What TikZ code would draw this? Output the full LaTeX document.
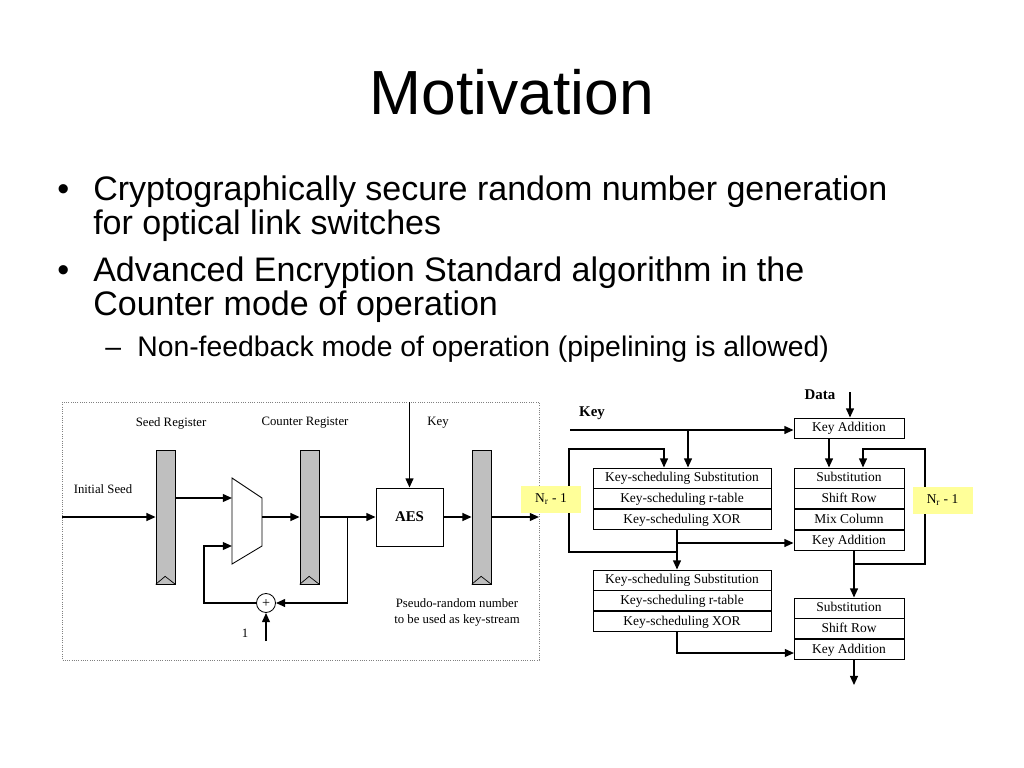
\documentclass[tikz,border=0pt]{standalone}
\usepackage{fontspec}
\setmainfont{Liberation Serif}
\newfontfamily\arialfont{Liberation Sans}
\usepackage{tikz}
\usetikzlibrary{arrows.meta,positioning}
\newlength\pu
\setlength\pu{0.0248cm}
\definecolor{noteyellow}{RGB}{255,255,153}
\tikzset{
  arr/.style={-{Triangle[length=6.5pt,width=5.5pt]}, line width=1.2pt},
  reg/.style={draw, line width=0.5pt, fill=gray!50, minimum width=19\pu, minimum height=134\pu, inner sep=0pt},
  cell/.style={draw, line width=0.6pt, fill=white, minimum height=20\pu, inner sep=0pt, text height=1.55ex, text depth=0.35ex, font=\fontsize{9.5}{10}\selectfont},
  rnd/.style={cell, minimum width=110\pu},
  kscell/.style={cell, minimum width=178\pu},
  lbl/.style={inner sep=0pt, font=\fontsize{9}{11}\selectfont},
  bold/.style={inner sep=0pt, font=\bfseries\fontsize{10.5}{12}\selectfont},
  note/.style={fill=noteyellow, minimum width=60\pu, minimum height=27\pu, inner sep=0pt, font=\fontsize{9.5}{10}\selectfont},
  bigtext/.style={inner sep=0pt, anchor=base west, font=\arialfont\fontsize{24}{28}\selectfont},
  subtext/.style={inner sep=0pt, anchor=base west, font=\arialfont\fontsize{20}{24}\selectfont}
}
\begin{document}
\begin{tikzpicture}[x=0.0248cm, y=-0.0248cm]
\useasboundingbox (0,0) rectangle (1024,768);
%%%%% Title and bullets %%%%%
\node[inner sep=0pt, anchor=base, font=\arialfont\fontsize{44}{50}\selectfont] (title) at (512,115) {Motivation};
\node[bigtext] (b1) at (57,200) {•};
\node[bigtext] (t1) at (93,200) {Cryptographically secure random number generation};
\node[bigtext] (t2) at (93,234) {for optical link switches};
\node[bigtext] (b2) at (57,281) {•};
\node[bigtext] (t3) at (93,281) {Advanced Encryption Standard algorithm in the};
\node[bigtext] (t4) at (93,315) {Counter mode of operation};
\node[subtext] (b3) at (105,356) {–};
\node[subtext] (t5) at (137,356) {Non-feedback mode of operation (pipelining is allowed)};

%%%%% Counter mode %%%%%
\draw[densely dotted, gray, line width=0.6pt] (62,402) rectangle (539,660);
\node[lbl] (seedlbl) at (171,423) {Seed Register};
\node[lbl] (ctrlbl) at (305,423) {Counter Register};
\node[lbl] (keylbl) at (438,423) {Key};
\node[lbl] (initlbl) at (103,489) {Initial Seed};
\node[reg] (sreg) at (165.5,517) {};
\node[reg] (creg) at (309.5,517) {};
\node[reg] (oreg) at (481.5,517) {};
\foreach \r in {sreg,creg,oreg}
  \draw[line width=0.5pt] (\r.south west) -- ++(9.5,-8) -- (\r.south east);
\draw[line width=0.6pt] (232,478) -- (262,498) -- (262,546) -- (232,564) -- cycle;
\coordinate (mi1) at (232,498);
\coordinate (mi2) at (232,546);
\coordinate (mo) at (262,517);
\node[draw, line width=0.6pt, minimum width=67\pu, minimum height=58\pu, font=\bfseries\fontsize{10.5}{12}\selectfont] (aes) at (409.5,517) {AES};
\node[draw, circle, line width=0.6pt, minimum size=19\pu, inner sep=0pt, font=\fontsize{10}{10}\selectfont] (add) at (266,603) {+};
\node[lbl] (one) at (245,633) {1};
\node[lbl, align=center, font=\fontsize{9}{10.7}\selectfont] (prn) at (457,612.5) {Pseudo-random number\\to be used as key-stream};
\coordinate (seedin) at (62,517);
\coordinate (keyin) at (409.5,402);
\coordinate (onein) at (266,641);
\coordinate (br) at (347.5,517);
\coordinate (outend) at (539,517);
\draw[arr] (seedin) -- (sreg.west);
\draw[arr] (sreg.east |- mi1) -- (mi1);
\draw[arr] (mo) -- (creg.west);
\draw[arr] (creg.east) -- (aes.west);
\draw[arr] (keyin) -- (aes.north);
\draw[arr] (aes.east) -- (oreg.west);
\draw[arr] (oreg.east) -- (outend);
\draw[arr] (br) |- (add.east);
\draw[arr] (add.west) -| (204,546) -- (mi2);
\draw[arr] (onein) -- (add.south);

%%%%% AES rounds %%%%%
\node[bold] (data) at (820,395) {Data};
\node[bold] (keyr) at (592,413) {Key};
\node[rnd] (ka0) at (849,428) {Key Addition};
\node[rnd] (sub1) at (849,478) {Substitution};
\node[rnd, below=0pt of sub1] (sr1) {Shift Row};
\node[rnd, below=0pt of sr1] (mc1) {Mix Column};
\node[rnd, below=0pt of mc1] (ka1) {Key Addition};
\node[rnd] (sub2) at (849,608) {Substitution};
\node[rnd, below=0pt of sub2] (sr2) {Shift Row};
\node[rnd, below=0pt of sr2] (ka2) {Key Addition};
\node[kscell] (ks1s) at (682,478) {Key-scheduling Substitution};
\node[kscell, below=0pt of ks1s] (ks1r) {Key-scheduling r-table};
\node[kscell, below=0pt of ks1r] (ks1x) {Key-scheduling XOR};
\node[kscell] (ks2s) at (682,580) {Key-scheduling Substitution};
\node[kscell, below=0pt of ks2s] (ks2r) {Key-scheduling r-table};
\node[kscell, below=0pt of ks2r] (ks2x) {Key-scheduling XOR};
\coordinate (datain) at (850,392);
\coordinate (keyin2) at (570,430);
\coordinate (kb) at (688,430);
\coordinate (kj) at (677,552);
\coordinate (kb2) at (677,543);
\coordinate (kb3) at (794,653);
\draw[arr] (datain) -- (datain |- ka0.north);
\draw[arr] (keyin2) -- (keyin2 -| ka0.west);
\draw[arr] (kb) -- (kb |- ks1s.north);
\draw[arr] (kj) -| (569,449) -| ([xshift=-18\pu]ks1s.north);
\draw[arr] ([xshift=-5\pu]ks1x.south) -- ([xshift=-5\pu]ks2s.north);
\draw[arr] (kb2) -- (kb2 -| ka1.west);
\draw[arr] ([xshift=-20\pu]ka0.south) -- ([xshift=-20\pu]sub1.north);
\draw[arr] ([xshift=5\pu]ka1.south) -- ++(0,13) -| (925,449) -| ([xshift=14\pu]sub1.north);
\draw[arr] ([xshift=5\pu]ka1.south) -- ([xshift=5\pu]sub2.north);
\draw[arr] ([xshift=-5\pu]ks2x.south) |- (kb3);
\draw[arr] ([xshift=5\pu]ka2.south) -- ++(0,25);
\node[note] (nleft) at (551,499) {N\textsubscript{r} - 1};
\node[note] (nright) at (942.5,500) {N\textsubscript{r} - 1};
\end{tikzpicture}
\end{document}
